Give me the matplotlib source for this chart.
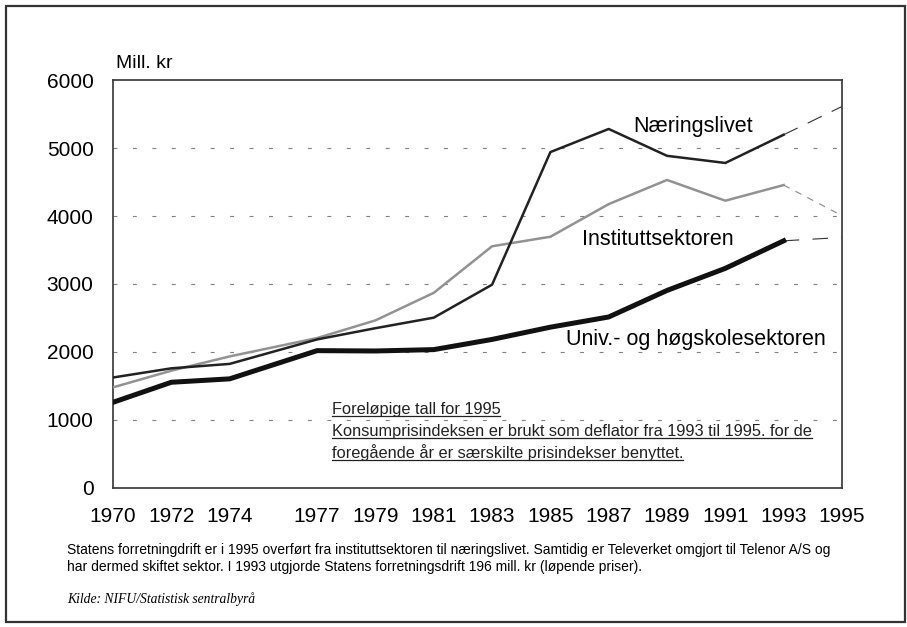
import matplotlib
matplotlib.use("Agg")
import matplotlib.pyplot as plt
from matplotlib.patches import Rectangle
from matplotlib.lines import Line2D

plt.rcParams["font.family"] = ["Liberation Sans", "DejaVu Sans"]

# data (mill. kr)
years = [1970, 1972, 1974, 1977, 1979, 1981, 1983, 1985, 1987, 1989, 1991, 1993]
naering = [1625, 1760, 1825, 2185, 2350, 2505, 2990, 4940, 5280, 4885, 4780, 5195]
institutt = [1480, 1725, 1935, 2205, 2465, 2870, 3555, 3695, 4175, 4530, 4225, 4455]
univ = [1260, 1555, 1605, 2020, 2015, 2035, 2185, 2365, 2515, 2905, 3230, 3635]

# preliminary 1995 figures (drawn dashed from 1993)
prelim_years = [1993, 1995]
naering_prelim = [5195, 5610]
institutt_prelim = [4455, 4005]
univ_prelim = [3635, 3685]

tick_years = [1970, 1972, 1974, 1977, 1979, 1981, 1983, 1985, 1987, 1989, 1991, 1993, 1995]
y_ticks = [0, 1000, 2000, 3000, 4000, 5000, 6000]

fig = plt.figure(figsize=(9.07, 6.27), dpi=100)
ax = fig.add_axes([0.1246, 0.2217, 0.8037, 0.6507])

ax.set_xlim(1970, 1995)
ax.set_ylim(0, 6000)

# grid
for v in y_ticks[1:-1]:
    ax.axhline(v, color="#808080", lw=0.8, dashes=(3.5, 14), zorder=1)

ax.plot(years, institutt, color="#929292", lw=1.8, zorder=3)
ax.plot(years, naering, color="#222222", lw=1.8, zorder=4)
ax.plot(years, univ, color="#111111", lw=3.6, zorder=5, solid_joinstyle="round")

ax.plot(prelim_years, naering_prelim, color="#333333", lw=0.8, dashes=(14, 10), zorder=3)
ax.plot(prelim_years, institutt_prelim, color="#888888", lw=0.8, dashes=(6, 6), zorder=3)
ax.plot(prelim_years, univ_prelim, color="#333333", lw=0.8, dashes=(14, 12), zorder=3)

ax.set_xticks(tick_years)
ax.set_xticklabels([str(y) for y in tick_years], fontsize=15)
ax.set_yticks(y_ticks)
ax.set_yticklabels([str(v) for v in y_ticks], fontsize=15)
ax.tick_params(length=0)
ax.tick_params(axis="x", pad=14)
ax.tick_params(axis="y", pad=14)

for s in ax.spines.values():
    s.set_color("#333333")
    s.set_linewidth(1.2)

ax.text(1970.1, 6250, "Mill. kr", fontsize=14, ha="left", va="center", clip_on=False)

ax.text(1989.9, 5310, "Næringslivet", fontsize=15.5, ha="center", va="center")
ax.text(1988.7, 3650, "Instituttsektoren", fontsize=15.5, ha="center", va="center")
ax.text(1990.0, 2185, "Univ.- og høgskolesektoren", fontsize=15.5, ha="center", va="center")

notes = [
    "Foreløpige tall for 1995",
    "Konsumprisindeksen er brukt som deflator fra 1993 til 1995. for de",
    "foregående år er særskilte prisindekser benyttet.",
]
note_y = [1150, 825, 515]
note_texts = []
for line, yv in zip(notes, note_y):
    t = ax.text(1977.5, yv, line, fontsize=11.8, ha="left", va="center", color="#222222")
    note_texts.append(t)

fig.text(0.0739, 0.1228,
         "Statens forretningdrift er i 1995 overført fra instituttsektoren til næringslivet. "
         "Samtidig er Televerket omgjort til Telenor A/S og",
         fontsize=10, ha="left", va="center")
fig.text(0.0739, 0.0957,
         "har dermed skiftet sektor. I 1993 utgjorde Statens forretningsdrift 196 mill. kr (løpende priser).",
         fontsize=10, ha="left", va="center")
fig.text(0.0739, 0.0447, "Kilde: NIFU/Statistisk sentralbyrå",
         fontsize=9.8, ha="left", va="center", style="italic", family="Liberation Serif")

# outer frame
fig.patches.append(Rectangle((0.0066, 0.008), 0.991, 0.982, transform=fig.transFigure,
                             fill=False, edgecolor="#333333", lw=1.6))

# underline the note lines
fig.canvas.draw()
renderer = fig.canvas.get_renderer()
inv = fig.transFigure.inverted()
for t in note_texts:
    bb = t.get_window_extent(renderer)
    (x0, y0), (x1, _) = inv.transform([(bb.x0, bb.y0 + 1), (bb.x1, bb.y0 + 1)])
    fig.lines.append(Line2D([x0, x1], [y0, y0], transform=fig.transFigure,
                            color="#222222", lw=0.9))

fig.savefig("out.png", dpi=100)
